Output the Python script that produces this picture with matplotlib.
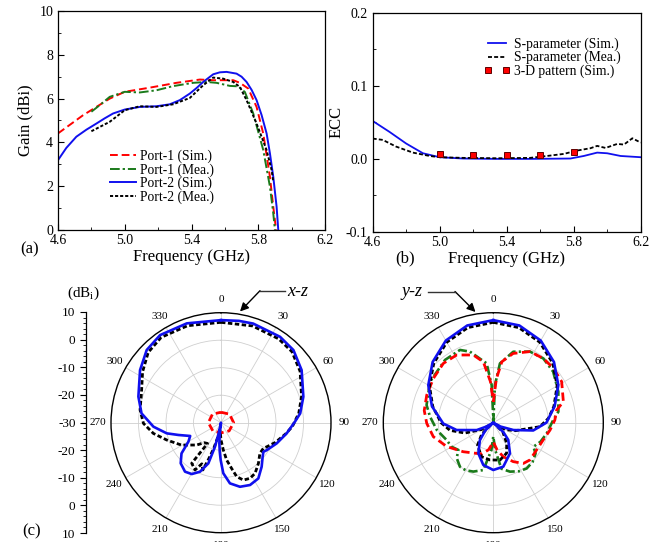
import numpy as np
import matplotlib
matplotlib.use("Agg")
import matplotlib.pyplot as plt
from matplotlib.ticker import MultipleLocator, FixedLocator
from matplotlib.lines import Line2D
from matplotlib.patches import FancyArrowPatch

plt.rcParams['font.family'] = ['Liberation Serif', 'DejaVu Serif']
plt.rcParams['mathtext.fontset'] = 'custom'
plt.rcParams['mathtext.rm'] = 'Liberation Serif'
plt.rcParams['mathtext.it'] = 'Liberation Serif:italic'

# ---------------- (a) gain vs frequency ----------------
f_p1_sim = [4.6, 4.75, 4.91, 5.0, 5.15, 5.31, 5.45, 5.53, 5.65, 5.69, 5.74, 5.79, 5.83, 5.87, 5.89, 5.907]
g_p1_sim = [4.41, 5.24, 6.0, 6.31, 6.5, 6.72, 6.87, 6.84, 6.84, 6.72, 6.46, 5.62, 4.4, 2.43, 1.06, 0.0]

f_p1_mea = [4.8, 4.85, 4.91, 5.0, 5.09, 5.19, 5.29, 5.41, 5.49, 5.55, 5.63, 5.68, 5.72, 5.77, 5.83, 5.87, 5.89, 5.9]
g_p1_mea = [5.4, 5.7, 6.08, 6.31, 6.28, 6.38, 6.57, 6.72, 6.76, 6.72, 6.58, 6.56, 6.3, 5.32, 3.65, 1.98, 0.76, 0.0]

f_p2_sim = [4.6, 4.65, 4.71, 4.77, 4.83, 4.88, 4.93, 5.0, 5.09, 5.19, 5.27, 5.33, 5.39, 5.43, 5.47,
            5.53, 5.57, 5.61, 5.67, 5.70, 5.73, 5.76, 5.79, 5.82, 5.85, 5.87, 5.89, 5.91, 5.92]
g_p2_sim = [3.19, 3.75, 4.26, 4.58, 4.86, 5.1, 5.32, 5.5, 5.62, 5.65, 5.74, 5.93, 6.23, 6.48, 6.76,
            7.11, 7.2, 7.22, 7.14, 7.0, 6.76, 6.4, 5.93, 5.25, 4.41, 3.5, 2.43, 1.06, 0.0]

f_p2_mea = [4.8, 4.91, 5.0, 5.09, 5.19, 5.29, 5.39, 5.47, 5.53, 5.59, 5.65, 5.69, 5.73, 5.79, 5.85, 5.88, 5.89]
g_p2_mea = [4.51, 4.94, 5.47, 5.65, 5.62, 5.74, 6.03, 6.61, 6.96, 6.91, 6.76, 6.53, 5.93, 4.86, 3.65, 2.74, 2.2]

freq_ticks = [4.6, 5.0, 5.4, 5.8, 6.2]
freq_labels = ['4.6', '5.0', '5.4', '5.8', '6.2']

# ---------------- (b) ECC ----------------
f_ecc_sim = [4.6, 4.7, 4.8, 4.9, 5.0, 5.14, 5.34, 5.54, 5.78, 5.86, 5.94, 6.0, 6.08, 6.2]
ecc_sim = [0.0519, 0.037, 0.021, 0.0077, 0.0023, 0.0005, 0.0, 0.0, 0.0005, 0.004, 0.0086, 0.0077, 0.004, 0.0023]

f_ecc_mea = [4.6, 4.66, 4.74, 4.84, 4.94, 5.0, 5.14, 5.34, 5.54, 5.64, 5.74, 5.82, 5.9, 5.94, 5.99,
             6.06, 6.1, 6.15, 6.2]
ecc_mea = [0.0278, 0.026, 0.0168, 0.0086, 0.004, 0.0023, 0.0014, 0.0009, 0.0014, 0.004, 0.0068, 0.0114,
           0.0146, 0.0178, 0.015, 0.0205, 0.0196, 0.0282, 0.0223]

f_ecc_3d = [5.0, 5.2, 5.4, 5.6, 5.8]
ecc_3d = [0.0068, 0.006, 0.0055, 0.0055, 0.009]

ecc_ticks = [-0.1, 0.0, 0.1, 0.2]
ecc_labels = ['-0.1', '0.0', '0.1', '0.2']

# ---------------- (c) radiation patterns, dBi ----------------
xz_sim_deg = [0, 10, 18, 34.5, 44.9, 56.9, 72.5, 83.3, 89.2, 99.2, 110.4, 121, 124.4, 129, 137.3, 146.2,
              155, 163.5, 171.6, 177.4, 180.5, 182.5, 184.6, 187, 190, 192.5, 194, 197.3, 203.2, 209.7,
              216.3, 224.8, 232.1, 239.8, 246.7, 253.9, 258.9, 266.6, 276.7, 287.5, 303, 314.4, 325.2,
              341, 360]
xz_sim_db = [7.3, 7.6, 7.9, 7.9, 7.3, 5.0, 1.4, -1.0, -3.1, -5.8, -8.4, -10.6, -11.3, -10.5, -8.2, -5.6,
             -5.0, -5.7, -7.7, -11.6, -16.4, -19.5, -22.5, -27, -30, -26, -21, -14.5, -10.6, -8.5,
             -7.9, -9.2, -11.8, -16.3, -17.8, -13.9, -9.9, -5.4, -0.9, 1.5, 5.1, 7.8, 8.8,
             8.2, 7.3]

xz_mea_deg = [0, 18, 34.5, 45, 57, 72, 83, 93, 100, 110, 117, 121.2, 128.2, 137.4, 146.1, 152.5, 158.7,
              163.8, 166.9, 171.4, 175.1, 180, 186, 196, 199, 201, 205, 208.8, 215.8, 213, 220, 227.5,
              240.4, 252.3, 261, 269.5, 279, 290, 303, 314, 325, 341, 360]
xz_mea_db = [6.5, 7.0, 7.0, 6.5, 4.3, 0.8, -1.5, -4.0, -6.2, -9.0, -11, -12, -12, -9.9, -7.8, -7.2, -7.6,
             -9.6, -12.9, -16.3, -20, -23.7, -27, -20, -15.7, -11.6, -13.5, -10.4, -11.8, -21, -20.5, -18,
             -13.5, -9.3, -5.1, -1.8, -0.2, 0.8, 4.0, 6.8, 7.9, 7.3, 6.5]

xz_p1_deg = [0, 45, 90, 135, 180, 225, 270, 315, 360]
xz_p1_db = [-26.2, -25.6, -25.4, -25.8, -26.3, -25.8, -25.4, -25.6, -26.2]

yz_sim_deg = [0, 15, 30, 45, 60, 75, 90, 101, 110, 118, 125, 133, 139, 151.5, 167.2, 180, 193.3, 206,
              217.6, 226, 234, 241, 246, 258.7, 269, 285, 300, 315, 330, 345, 360]
yz_sim_db = [7.3, 6.6, 4.5, 1.2, -2.7, -6.9, -10.7, -15.2, -22.2, -27, -30, -25, -21.7, -17.3, -13.6,
             -12.8, -14.2, -17.6, -22, -26, -30, -27, -23.4, -16.4, -11.8, -6.9, -2.7, 1.2, 4.5, 6.6, 7.3]

yz_mea_deg = [0, 15, 30, 45, 60, 75, 85.5, 94.9, 102.5, 110, 120, 127, 135, 147.2, 156.5, 169.9, 185,
              198.9, 215, 225, 233, 240, 250, 260, 270, 285, 300, 315, 330, 345, 360]
yz_mea_db = [6.5, 5.8, 3.8, 0.6, -3.2, -7.2, -9.9, -13, -18.8, -21.5, -25, -29, -25, -21, -17.9, -16.2,
             -16.4, -16.9, -20, -24, -29, -25, -19, -14, -11, -7.2, -3.2, 0.6, 3.8, 5.8, 6.5]

yz_p1_deg = [0, 4, 8, 16, 27.3, 37.9, 47.8, 59, 73.3, 78.7, 87.5, 97.4, 109, 122.2, 135.5, 143.6, 152.9,
             163.6, 172, 180, 190, 200, 208.5, 226, 242.8, 256.9, 269.4, 280, 292.5, 306.5, 319.9,
             331.5, 343.5, 350.7, 356, 360]
yz_p1_db = [-22.4, -14, -7.6, -3.8, -0.9, -0.4, -0.5, -1.0, -3.4, -6.5, -7.6, -9.2, -10.8, -11.4, -11.0,
            -11.6, -14.1, -17.1, -20, -23, -20, -18, -17.3, -14.8, -11, -7.6, -5.8, -4.5, -3.8, -2.9,
            -1.8, -2.0, -4.3, -7.6, -15, -22.4]

yz_p1m_deg = [0, 2.5, 6.4, 15.7, 27.3, 37.9, 49.6, 64.5, 80.4, 87.5, 101.3, 112, 121, 126, 135, 143.9,
              152, 161.2, 170, 176, 180, 184, 191.9, 202.2, 210, 217.1, 226, 232, 240, 249.6, 262.6,
              275.4, 284.8, 302.9, 322.4, 335.4, 341.8, 353.6, 357.5, 359.5, 360]
yz_p1m_db = [-30, -16.3, -8.3, -3.2, -0.9, -0.4, -1.4, -3.8, -6, -8.2, -10.2, -11.5, -13, -11, -9.8, -9.4,
             -10, -11.2, -13, -20, -25, -20, -12.4, -10.8, -10, -9.9, -11.5, -13.9, -12.5, -11.9, -9.3,
             -6.9, -4.9, -2.6, -1.2, -0.9, -2.8, -8.3, -16.3, -28, -30]

theta_ticks = list(range(0, 360, 30))
scale_pos = [0, 10, 20, 30, 40, 50, 60, 70, 80]
scale_labels = ['10', '0', '-10', '-20', '-30', '-20', '-10', '0', '10']

W, H = 658, 542
fig = plt.figure(figsize=(W / 100, H / 100), dpi=100)


def box(l, t, r, b):
    # pixel box -> figure fraction rect
    return [l / W, 1 - b / H, (r - l) / W, (b - t) / H]


def style_cart(ax):
    ax.tick_params(which='both', direction='in', top=False, right=False, labelsize=10)
    ax.tick_params(which='major', length=4)
    ax.tick_params(which='minor', length=2.5)
    ax.tick_params(axis='x', pad=3)
    for s in ax.spines.values():
        s.set_linewidth(0.9)


# (a)
ax1 = fig.add_axes(box(58, 11, 325, 230))
ax1.plot(f_p1_sim, g_p1_sim, color='red', lw=1.4, ls=(0, (4, 2)), label='Port-1 (Sim.)')
ax1.plot(f_p1_mea, g_p1_mea, color='#1a7a1a', lw=1.4, ls=(0, (5, 1.5, 1.2, 1.5)), label='Port-1 (Mea.)')
ax1.plot(f_p2_sim, g_p2_sim, color='#1010ee', lw=1.4, label='Port-2 (Sim.)')
ax1.plot(f_p2_mea, g_p2_mea, color='black', lw=1.4, ls=(0, (1.6, 1.0)), label='Port-2 (Mea.)')
ax1.set_xlim(4.6, 6.2)
ax1.set_ylim(0, 10)
ax1.xaxis.set_major_locator(FixedLocator(freq_ticks))
ax1.xaxis.set_minor_locator(MultipleLocator(0.2))
ax1.yaxis.set_major_locator(MultipleLocator(2))
ax1.yaxis.set_minor_locator(MultipleLocator(1))
ax1.set_xticklabels(freq_labels)
style_cart(ax1)
ax1.set_xlabel('Frequency (GHz)', fontsize=12, labelpad=1)
ax1.set_ylabel('Gain (dBi)', fontsize=12, labelpad=4)
ax1.legend(loc='upper left', bbox_to_anchor=(0.195, 0.367), frameon=False, fontsize=9.8,
           handlelength=1.9, handletextpad=0.3, labelspacing=0.0, borderpad=0, borderaxespad=0)

# (b)
ax2 = fig.add_axes(box(372.7, 12.7, 640.7, 232))
ax2.plot(f_ecc_sim, ecc_sim, color='#1010ee', lw=1.3, label='S-parameter (Sim.)')
ax2.plot(f_ecc_mea, ecc_mea, color='black', lw=1.3, ls=(0, (2.2, 1.2)), label='S-parameter (Mea.)')
ax2.plot(f_ecc_3d, ecc_3d, ls='none', marker='s', ms=4.8, mfc='red', mec='#600000', mew=0.7,
         label='3-D pattern (Sim.)')
ax2.set_xlim(4.6, 6.2)
ax2.set_ylim(-0.1, 0.2)
ax2.xaxis.set_major_locator(FixedLocator(freq_ticks))
ax2.xaxis.set_minor_locator(MultipleLocator(0.2))
ax2.yaxis.set_major_locator(FixedLocator(ecc_ticks))
ax2.yaxis.set_minor_locator(FixedLocator([-0.05, 0.05, 0.15]))
ax2.set_xticklabels(freq_labels)
ax2.set_yticklabels(ecc_labels)
style_cart(ax2)
ax2.set_xlabel('Frequency (GHz)', fontsize=12, labelpad=1)
ax2.set_ylabel('ECC', fontsize=12, labelpad=1)
ax2.legend(loc='upper left', bbox_to_anchor=(0.415, 0.887), frameon=False, fontsize=9.8, numpoints=2,
           handlelength=1.9, handletextpad=0.3, labelspacing=0.0, borderpad=0, borderaxespad=0)

fig.text(20 / W, 1 - 249 / H, '(a)', fontsize=12, va='center')
fig.text(395 / W, 1 - 258 / H, '(b)', fontsize=12, va='center')


# (c) polar patterns
def polar_axes(cx):
    ax = fig.add_axes(box(cx - 110, 422.7 - 110, cx + 110, 422.7 + 110), projection='polar')
    ax.set_theta_zero_location('N')
    ax.set_theta_direction(-1)
    ax.set_rlim(-30, 10)
    ax.set_rticks([-20, -10, 0])
    ax.set_yticklabels([])
    ax.set_thetagrids(theta_ticks, labels=[str(t) for t in theta_ticks], fontsize=8)
    ax.tick_params(axis='x', pad=-1)
    ax.grid(color='#cfcfcf', lw=0.6)
    ax.spines['polar'].set_linewidth(1.0)
    return ax


ax3 = polar_axes(221)
ax3.plot(np.deg2rad(xz_p1_deg), xz_p1_db, color='red', lw=2.0, ls=(0, (2.6, 1.4)))
ax3.plot(np.deg2rad(xz_mea_deg), xz_mea_db, color='black', lw=2.0, ls=(0, (1.6, 0.9)))
ax3.plot(np.deg2rad(xz_sim_deg), xz_sim_db, color='#1010ee', lw=1.9)

ax4 = polar_axes(493.3)
ax4.plot(np.deg2rad(yz_p1m_deg), yz_p1m_db, color='#1a7a1a', lw=1.9, ls=(0, (3.5, 1.2, 0.8, 1.2)))
ax4.plot(np.deg2rad(yz_p1_deg), yz_p1_db, color='red', lw=2.0, ls=(0, (3.0, 1.6)))
ax4.plot(np.deg2rad(yz_mea_deg), yz_mea_db, color='black', lw=2.0, ls=(0, (1.6, 0.9)))
ax4.plot(np.deg2rad(yz_sim_deg), yz_sim_db, color='#1010ee', lw=1.9)

# shared dBi scale
ax5 = fig.add_axes(box(86, 312, 86.2, 533))
ax5.set_ylim(0, 80)
ax5.set_xticks([])
for side in ['top', 'right', 'bottom']:
    ax5.spines[side].set_visible(False)
ax5.spines['left'].set_linewidth(0.9)
ax5.yaxis.set_major_locator(FixedLocator(scale_pos))
ax5.yaxis.set_minor_locator(MultipleLocator(2))
ax5.set_yticklabels(scale_labels)
ax5.tick_params(which='both', direction='out', labelsize=9.5)
ax5.tick_params(which='major', length=4)
ax5.tick_params(which='minor', length=2)
ax5.patch.set_visible(False)

fig.text(83 / W, 1 - 293 / H, r'(dB$_{\rm i}$)', fontsize=11, ha='center', va='center')
fig.text(22 / W, 1 - 531 / H, '(c)', fontsize=12, va='center')


# plane labels with bent arrows
def plane_tag(text, tx, knee, end, tip):
    fig.add_artist(Line2D([knee[0] / W, end[0] / W], [1 - knee[1] / H, 1 - end[1] / H],
                          color='#333333', lw=1.0))
    fig.add_artist(FancyArrowPatch(
        (knee[0] / W, 1 - knee[1] / H), (tip[0] / W, 1 - tip[1] / H), transform=fig.transFigure,
        arrowstyle='-|>,head_length=5,head_width=2.5', color='black', lw=1.0, shrinkA=0, shrinkB=0))
    fig.text(tx / W, 1 - 291 / H, text, fontsize=13, style='italic', va='center')


plane_tag('x-z', 287, (260, 290.7), (285, 290.7), (240, 311.5))
plane_tag('y-z', 401.5, (455, 291.5), (428, 291.5), (475.5, 312))

fig.savefig('out.png', dpi=100)
